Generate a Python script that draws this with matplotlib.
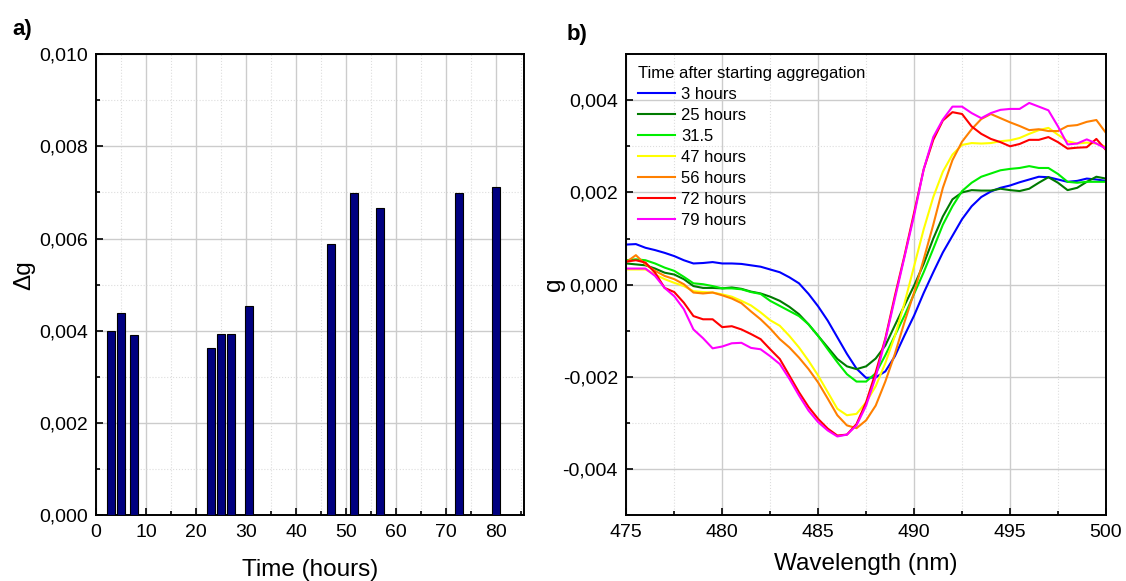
import matplotlib
matplotlib.use("Agg")
import matplotlib.pyplot as plt
from matplotlib.ticker import MultipleLocator, FuncFormatter
import numpy as np

plt.rcParams['font.family'] = ['Liberation Sans', 'DejaVu Sans']

# ---- panel a) data ----
hours = [3, 5, 7.5, 23, 25, 27, 30.5, 47, 51.5, 56.8, 72.5, 80]
delta_g = [0.00400, 0.00438, 0.00391, 0.00363, 0.00394, 0.00394,
           0.00454, 0.00589, 0.00698, 0.00667, 0.00698, 0.00712]

# ---- panel b) data ----
wavelength = np.arange(475, 500.01, 0.5)

g_3h = [0.00087, 0.00088, 0.00080, 0.00075, 0.00069, 0.00062, 0.00053, 0.00046, 0.00047, 0.00049,
        0.00046, 0.00046, 0.00045, 0.00042, 0.00039, 0.00033, 0.00027, 0.00016, 0.00003, -0.00020,
        -0.00047, -0.00078, -0.00114, -0.00150, -0.00182, -0.00202, -0.00201, -0.00188, -0.00155, -0.00110,
        -0.00067, -0.00018, 0.00027, 0.00070, 0.00106, 0.00142, 0.00170, 0.00190, 0.00202, 0.00210,
        0.00215, 0.00222, 0.00228, 0.00234, 0.00233, 0.00228, 0.00223, 0.00225, 0.00230, 0.00228,
        0.00225]
g_25h = [0.00046, 0.00044, 0.00042, 0.00035, 0.00026, 0.00022, 0.00012, -0.00003, -0.00007, -0.00007,
         -0.00008, -0.00006, -0.00009, -0.00015, -0.00019, -0.00026, -0.00035, -0.00048, -0.00064, -0.00086,
         -0.00111, -0.00136, -0.00161, -0.00177, -0.00183, -0.00177, -0.00160, -0.00132, -0.00088, -0.00045,
         -0.00002, 0.00045, 0.00100, 0.00148, 0.00185, 0.00200, 0.00205, 0.00204, 0.00204, 0.00208,
         0.00205, 0.00203, 0.00208, 0.00221, 0.00233, 0.00221, 0.00205, 0.00210, 0.00223, 0.00234,
         0.00230]
g_31h = [0.00053, 0.00055, 0.00053, 0.00046, 0.00037, 0.00030, 0.00017, 0.00003, 0.00001, -0.00003,
         -0.00008, -0.00008, -0.00010, -0.00016, -0.00020, -0.00035, -0.00046, -0.00057, -0.00068, -0.00086,
         -0.00111, -0.00140, -0.00168, -0.00194, -0.00210, -0.00210, -0.00192, -0.00153, -0.00110, -0.00067,
         -0.00020, 0.00027, 0.00078, 0.00130, 0.00170, 0.00203, 0.00221, 0.00234, 0.00241, 0.00248,
         0.00251, 0.00253, 0.00257, 0.00253, 0.00253, 0.00240, 0.00223, 0.00221, 0.00223, 0.00223,
         0.00223]
g_47h = [0.00033, 0.00033, 0.00033, 0.00022, 0.00012, 0.00004, -0.00003, -0.00014, -0.00016, -0.00017,
         -0.00021, -0.00026, -0.00035, -0.00045, -0.00060, -0.00077, -0.00089, -0.00111, -0.00136, -0.00165,
         -0.00197, -0.00233, -0.00269, -0.00283, -0.00280, -0.00255, -0.00220, -0.00170, -0.00111, -0.00040,
         0.00040, 0.00120, 0.00190, 0.00245, 0.00282, 0.00303, 0.00307, 0.00306, 0.00307, 0.00311,
         0.00313, 0.00318, 0.00327, 0.00335, 0.00340, 0.00325, 0.00311, 0.00306, 0.00308, 0.00306,
         0.00299]
g_56h = [0.00049, 0.00064, 0.00044, 0.00030, 0.00019, 0.00012, 0.00001, -0.00017, -0.00019, -0.00017,
         -0.00023, -0.00030, -0.00040, -0.00058, -0.00075, -0.00095, -0.00118, -0.00136, -0.00158, -0.00183,
         -0.00212, -0.00247, -0.00283, -0.00305, -0.00311, -0.00294, -0.00262, -0.00210, -0.00150, -0.00081,
         -0.00017, 0.00055, 0.00130, 0.00210, 0.00270, 0.00310, 0.00337, 0.00359, 0.00370, 0.00361,
         0.00352, 0.00344, 0.00335, 0.00337, 0.00333, 0.00333, 0.00344, 0.00346, 0.00353, 0.00357,
         0.00329]
g_72h = [0.00050, 0.00053, 0.00048, 0.00026, -0.00007, -0.00016, -0.00039, -0.00068, -0.00075, -0.00075,
         -0.00092, -0.00090, -0.00097, -0.00107, -0.00118, -0.00140, -0.00161, -0.00197, -0.00233, -0.00265,
         -0.00291, -0.00312, -0.00327, -0.00325, -0.00302, -0.00255, -0.00190, -0.00117, -0.00024, 0.00063,
         0.00156, 0.00250, 0.00314, 0.00356, 0.00374, 0.00370, 0.00343, 0.00327, 0.00316, 0.00309,
         0.00300, 0.00305, 0.00314, 0.00314, 0.00320, 0.00309, 0.00295, 0.00297, 0.00298, 0.00316,
         0.00292]
g_79h = [0.00035, 0.00035, 0.00035, 0.00019, -0.00007, -0.00025, -0.00053, -0.00097, -0.00116, -0.00138,
         -0.00134, -0.00127, -0.00126, -0.00137, -0.00140, -0.00155, -0.00172, -0.00204, -0.00240, -0.00273,
         -0.00298, -0.00316, -0.00329, -0.00325, -0.00305, -0.00262, -0.00200, -0.00120, -0.00030, 0.00060,
         0.00150, 0.00250, 0.00320, 0.00358, 0.00386, 0.00386, 0.00372, 0.00361, 0.00372, 0.00379,
         0.00381, 0.00381, 0.00394, 0.00386, 0.00378, 0.00343, 0.00304, 0.00306, 0.00315, 0.00306,
         0.00295]

series = [g_3h, g_25h, g_31h, g_47h, g_56h, g_72h, g_79h]
labels = ['3 hours', '25 hours', '31.5', '47 hours', '56 hours', '72 hours', '79 hours']
colors = ['#0000ff', '#007a00', '#00ee00', '#ffff00', '#ff8000', '#ff0000', '#ff00ff']


def comma_fmt(v, pos):
    s = '%.3f' % v
    if s == '-0.000':
        s = '0.000'
    return s.replace('.', ',')


def style_axes(ax):
    ax.grid(which='major', color='#cccccc', linewidth=1.0, linestyle='-')
    ax.grid(which='minor', color='#dddddd', linewidth=0.8, linestyle=':')
    ax.set_axisbelow(True)
    for sp in ax.spines.values():
        sp.set_linewidth(1.4)
    ax.tick_params(which='both', direction='in', top=False, right=False, labelsize=14, width=1.2)
    ax.tick_params(which='major', length=5, pad=6)
    ax.tick_params(which='minor', length=3)
    ax.yaxis.set_major_formatter(FuncFormatter(comma_fmt))


fig = plt.figure(figsize=(11.26, 5.81), dpi=100)

# ---- a) ----
ax1 = fig.add_axes([0.0853, 0.113, 0.3798, 0.794])
ax1.bar(hours, delta_g, width=1.58, color='#000080', edgecolor='black', linewidth=0.8, zorder=3)
ax1.set_xlim(0, 85.5)
ax1.set_ylim(0, 0.010)
ax1.xaxis.set_major_locator(MultipleLocator(10))
ax1.xaxis.set_minor_locator(MultipleLocator(5))
ax1.yaxis.set_major_locator(MultipleLocator(0.002))
ax1.yaxis.set_minor_locator(MultipleLocator(0.001))
style_axes(ax1)
ax1.set_xlabel('Time (hours)', fontsize=17.5, labelpad=13)
ax1.set_ylabel('\u0394g', fontsize=17.5)
ax1.yaxis.set_label_coords(-0.143, 0.52)
fig.text(0.011, 0.95, 'a)', fontsize=16, fontweight='bold', va='center')

# ---- b) ----
ax2 = fig.add_axes([0.5562, 0.113, 0.4260, 0.794])
for y, lab, c in zip(series, labels, colors):
    ax2.plot(wavelength, y, color=c, linewidth=1.5, label=lab)
ax2.set_xlim(475, 500)
ax2.set_ylim(-0.005, 0.005)
ax2.xaxis.set_major_locator(MultipleLocator(5))
ax2.xaxis.set_minor_locator(MultipleLocator(2.5))
ax2.yaxis.set_major_locator(MultipleLocator(0.002))
ax2.yaxis.set_minor_locator(MultipleLocator(0.001))
style_axes(ax2)
ax2.set_xlabel('Wavelength (nm)', fontsize=17.5, labelpad=9)
ax2.set_ylabel('g', fontsize=17.5)
ax2.yaxis.set_label_coords(-0.127, 0.5)
leg = ax2.legend(title='Time after starting aggregation', loc='upper left',
                 bbox_to_anchor=(0.0, 1.0), frameon=False, fontsize=12,
                 title_fontsize=12, alignment='left', handlelength=2.25,
                 handletextpad=0.35, labelspacing=0.36, borderaxespad=0.4,
                 borderpad=0.3)
fig.text(0.503, 0.94, 'b)', fontsize=16, fontweight='bold', va='center')

fig.savefig('out.png', dpi=100)
